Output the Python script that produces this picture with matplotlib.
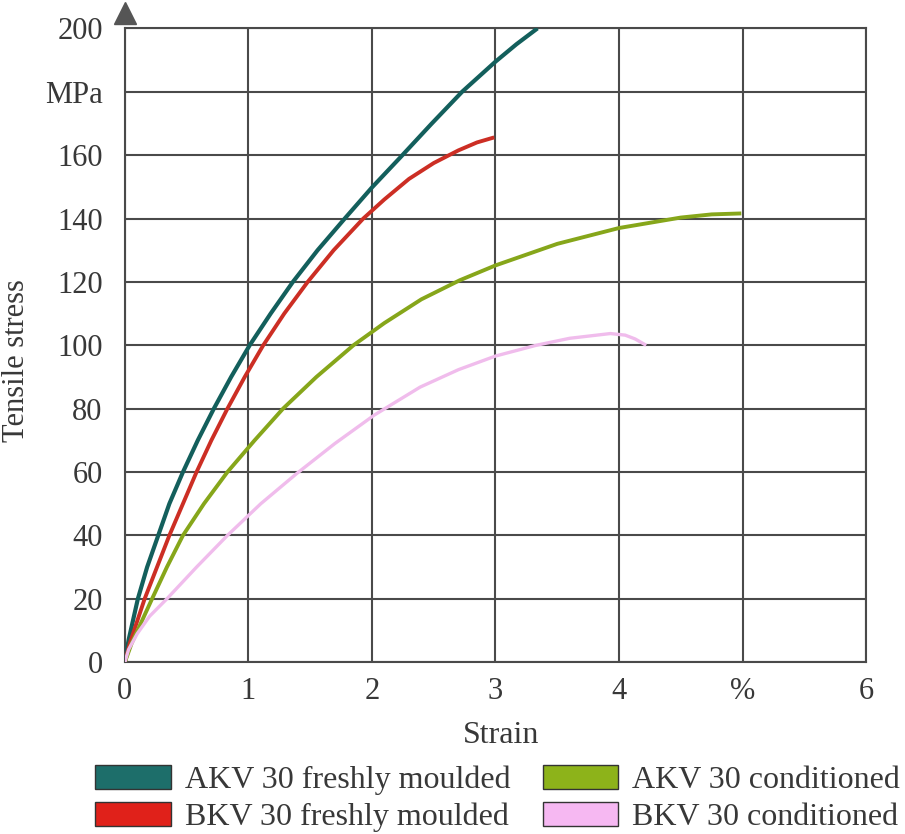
import matplotlib
matplotlib.use("Agg")
import matplotlib.pyplot as plt
from matplotlib.patches import Patch

plt.rcParams['font.family'] = ['Liberation Serif', 'DejaVu Serif']

akv_fresh_x = [0, 0.03, 0.105, 0.18, 0.27, 0.36, 0.47, 0.59, 0.72, 0.86, 1.01, 1.18, 1.36, 1.56, 1.78, 2.0, 2.23, 2.48, 2.73, 3.0, 3.17, 3.34]
akv_fresh_y = [0, 7, 20, 30, 40, 50, 60, 70, 80, 90, 100, 110, 120, 130, 140, 149.8, 159.3, 169.8, 180, 189.5, 195, 200]

bkv_fresh_x = [0, 0.04, 0.16, 0.26, 0.36, 0.47, 0.58, 0.70, 0.83, 0.97, 1.12, 1.29, 1.48, 1.69, 1.93, 2.1, 2.3, 2.5, 2.7, 2.85, 2.99]
bkv_fresh_y = [0, 6, 20, 30, 40, 50, 60, 70, 80, 90, 100, 110, 120, 130, 140, 146, 152.5, 157.5, 161.5, 164, 165.6]

akv_cond_x = [0, 0.055, 0.22, 0.34, 0.47, 0.64, 0.83, 1.05, 1.28, 1.55, 1.85, 2.1, 2.4, 2.71, 3.0, 3.5, 4.0, 4.5, 4.75, 4.99]
akv_cond_y = [0, 6, 20, 30, 40, 50, 60, 70, 80, 90, 100, 107, 114.5, 120.5, 125.2, 132, 137, 140.3, 141.3, 141.6]

bkv_cond_x = [0, 0.03, 0.1, 0.2, 0.34, 0.58, 0.83, 1.1, 1.39, 1.7, 2.02, 2.39, 2.7, 3.0, 3.33, 3.6, 3.93, 4.05, 4.13, 4.22]
bkv_cond_y = [0, 4, 9, 14.5, 20, 30, 40, 50, 59.5, 69, 78, 86.8, 92.3, 96.6, 100, 102.2, 103.7, 103.2, 102, 100]

series_labels = ["AKV 30 freshly moulded", "BKV 30 freshly moulded",
                 "AKV 30 conditioned", "BKV 30 conditioned"]
line_colors = ["#135f5c", "#cc2e24", "#86a61a", "#f0bcec"]
patch_colors = ["#1d6e6a", "#e0211a", "#8db31a", "#f6b8f2"]
line_widths = [3.0, 2.8, 2.8, 2.4]

x_ticks = [0, 1, 2, 3, 4, 5, 6]
x_ticklabels = ["0", "1", "2", "3", "4", "%", "6"]
y_ticks = [0, 20, 40, 60, 80, 100, 120, 140, 160, 180, 200]
y_ticklabels = ["0", "20", "40", "60", "80", "100", "120", "140", "160", "MPa", "200"]

fig = plt.figure(figsize=(9.05, 8.34), dpi=100)
ax = fig.add_axes([0.138, 0.206, 0.819, 0.76])

grid_c = "#4a4a4a"
txt_c = "#383838"
for t in x_ticks:
    ax.axvline(t, color=grid_c, lw=1.5, zorder=1)
for t in y_ticks:
    ax.axhline(t, color=grid_c, lw=1.5, zorder=1)

data = [(akv_fresh_x, akv_fresh_y), (bkv_fresh_x, bkv_fresh_y),
        (akv_cond_x, akv_cond_y), (bkv_cond_x, bkv_cond_y)]
for (xs, ys), c, w in zip(data, line_colors, line_widths):
    ax.plot(xs, ys, color=c, lw=w, solid_capstyle='butt', solid_joinstyle='round', zorder=3)

ax.set_xlim(0, 6)
ax.set_ylim(0, 200)
ax.set_xticks(x_ticks)
ax.set_xticklabels(x_ticklabels)
ax.set_yticks(y_ticks)
ax.set_yticklabels(y_ticklabels)
ax.tick_params(length=0, labelsize=22, colors=txt_c)
ax.tick_params(axis='x', pad=11)
ax.tick_params(axis='y', pad=16)
for s in ax.spines.values():
    s.set_color(grid_c)
    s.set_linewidth(1.5)

ax.set_xlabel("Strain", fontsize=23, color=txt_c)
ax.xaxis.set_label_coords(0.507, -0.092)
ax.set_ylabel("Tensile stress", fontsize=22, color=txt_c)
ax.yaxis.set_label_coords(-0.126, 0.476)

# arrow at top of y-axis
ax.plot([0], [205], marker='^', markersize=16, color="#555555", clip_on=False, zorder=5)

handles = [Patch(facecolor=c, edgecolor="#333333", linewidth=1.0) for c in patch_colors]
fig.legend(handles, series_labels, loc="upper left", bbox_to_anchor=(0.105, 0.0827),
           ncol=2, frameon=False, fontsize=23, handlelength=2.375, handleheight=0.78,
           columnspacing=1.0, handletextpad=0.44, labelspacing=0.22,
           borderpad=0, borderaxespad=0, labelcolor=txt_c)

fig.savefig("out.png", dpi=100)
